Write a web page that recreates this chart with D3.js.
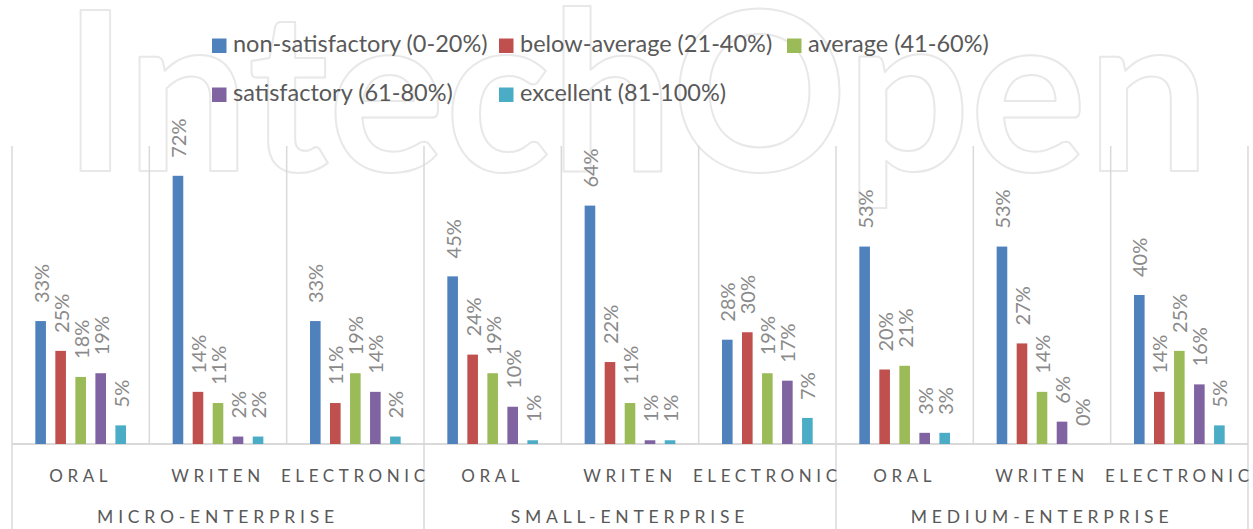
<!DOCTYPE html>
<html lang="en">
<head>
  <meta charset="UTF-8">
  <style>
    body { margin: 0; background: #fff; }
    .legend-text { fill: #595959; font-size: 23.5px; font-family: Lato, sans-serif; }
    .cat-label { fill: #595959; font-size: 17px; font-family: Lato, sans-serif; letter-spacing: 4.6px; }
    .group-label { fill: #595959; font-size: 17.5px; font-family: Lato, sans-serif; letter-spacing: 4.8px; }
    .value-label { fill: #8a8a8a; font-size: 20px; font-family: Lato, sans-serif; }
  </style>
  <title>Chart</title>
  <script src="https://d3js.org/d3.v7.min.js"></script>
</head>
<body>
<svg id="chart"></svg>
<script>

const groups = ['MICRO-ENTERPRISE', 'SMALL-ENTERPRISE', 'MEDIUM-ENTERPRISE'];
const channels = ['ORAL', 'WRITEN', 'ELECTRONIC'];
const series = [
  'non-satisfactory (0-20%)',
  'below-average (21-40%)',
  'average (41-60%)',
  'satisfactory (61-80%)',
  'excellent (81-100%)'
];
const colors = ['#4f81bd', '#c0504d', '#9bbb59', '#8064a2', '#4bacc6'];

// one array per series, 9 values: micro oral/writen/electronic, small ..., medium ...
const nonSatisfactory = [33, 72, 33, 45, 64, 28, 53, 53, 40];
const belowAverage    = [25, 14, 11, 24, 22, 30, 20, 27, 14];
const average         = [18, 11, 19, 19, 11, 19, 21, 14, 25];
const satisfactory    = [19,  2, 14, 10,  1, 17,  3,  6, 16];
const excellent       = [ 5,  2,  2,  1,  1,  7,  3,  0,  5];
const seriesValues = [nonSatisfactory, belowAverage, average, satisfactory, excellent];

const size = {width: 1253, height: 529};
const plot = {left: 12, right: 1248, top: 146, bottom: 444};

const svg = d3.select('#chart')
  .attr('width', size.width)
  .attr('height', size.height);

const keys = [];
groups.forEach(function(g) {
  channels.forEach(function(c) { keys.push(g + '|' + c); });
});

const x0 = d3.scaleBand()
  .domain(keys)
  .range([plot.left, plot.right]);
const x1 = d3.scaleBand()
  .domain(series)
  .range([0, x0.bandwidth()])
  .paddingInner(0.47)
  .paddingOuter(1.165);
const gx = d3.scaleBand()
  .domain(groups)
  .range([plot.left, plot.right]);
const y = d3.scaleLinear()
  .domain([0, 80])
  .range([plot.bottom, plot.top]);

// watermark
svg.append('text')
  .attr('x', 63)
  .attr('y', 171)
  .attr('textLength', 1147)
  .attr('lengthAdjust', 'spacingAndGlyphs')
  .style('font-family', 'Lato, sans-serif')
  .style('font-size', '222px')
  .style('font-weight', 700)
  .style('fill', 'none')
  .style('stroke', '#e8e8e8')
  .style('stroke-width', 2)
  .style('stroke-linejoin', 'round')
  .text('IntechOpen');

// separators inside plot
svg.append('g').selectAll('line')
  .data(keys.concat(['end']))
  .enter()
  .append('line')
  .attr('x1', function(d) { return d === 'end' ? plot.right : x0(d); })
  .attr('x2', function(d) { return d === 'end' ? plot.right : x0(d); })
  .attr('y1', plot.top)
  .attr('y2', plot.bottom)
  .style('stroke', '#d9d9d9')
  .style('stroke-width', 1.5);

// separators below axis at group boundaries
svg.append('g').selectAll('line')
  .data(groups.concat(['end']))
  .enter()
  .append('line')
  .attr('x1', function(d) { return d === 'end' ? plot.right : gx(d); })
  .attr('x2', function(d) { return d === 'end' ? plot.right : gx(d); })
  .attr('y1', plot.bottom)
  .attr('y2', size.height)
  .style('stroke', '#d9d9d9')
  .style('stroke-width', 1.5);

svg.append('line')
  .attr('x1', plot.left)
  .attr('x2', plot.right)
  .attr('y1', plot.bottom)
  .attr('y2', plot.bottom)
  .style('stroke', '#d9d9d9')
  .style('stroke-width', 2);

// bars
const cells = [];
seriesValues.forEach(function(vals, si) {
  vals.forEach(function(v, ki) {
    cells.push({key: keys[ki], series: series[si], color: colors[si], value: v});
  });
});

svg.append('g').selectAll('rect')
  .data(cells)
  .enter()
  .append('rect')
  .attr('x', function(d) { return x0(d.key) + x1(d.series); })
  .attr('y', function(d) { return y(d.value); })
  .attr('width', x1.bandwidth())
  .attr('height', function(d) { return y(0) - y(d.value); })
  .style('fill', function(d) { return d.color; });

svg.append('g').selectAll('text')
  .data(cells)
  .enter()
  .append('text')
  .attr('class', 'value-label')
  .attr('transform', function(d) {
    const cx = x0(d.key) + x1(d.series) + x1.bandwidth() / 2;
    return 'translate(' + cx + ',' + (y(d.value) - 18) + ') rotate(-90)';
  })
  .attr('text-anchor', 'start')
  .attr('dominant-baseline', 'central')
  .text(function(d) { return d.value + '%'; });

// category axis
svg.append('g').selectAll('text')
  .data(keys)
  .enter()
  .append('text')
  .attr('class', 'cat-label')
  .attr('x', function(d) { return x0(d) + x0.bandwidth() / 2; })
  .attr('y', 482)
  .attr('text-anchor', 'middle')
  .text(function(d) { return d.split('|')[1]; });

svg.append('g').selectAll('text')
  .data(groups)
  .enter()
  .append('text')
  .attr('class', 'group-label')
  .attr('x', function(d) { return gx(d) + gx.bandwidth() / 2; })
  .attr('y', 523)
  .attr('text-anchor', 'middle')
  .text(function(d) { return d; });

// legend
const legendPos = [
  {x: 212, y: 52}, {x: 499, y: 52}, {x: 787, y: 52},
  {x: 212, y: 101}, {x: 499, y: 101}
];
const legend = svg.append('g').selectAll('g')
  .data(series)
  .enter()
  .append('g')
  .attr('transform', function(d, i) {
    return 'translate(' + legendPos[i].x + ',' + legendPos[i].y + ')';
  });
legend.append('rect')
  .attr('x', 0)
  .attr('y', -13.5)
  .attr('width', 14.5)
  .attr('height', 14.5)
  .style('fill', function(d, i) { return colors[i]; });
legend.append('text')
  .attr('class', 'legend-text')
  .attr('x', 21)
  .attr('y', 0)
  .text(function(d) { return d; });

</script>
</body>
</html>
